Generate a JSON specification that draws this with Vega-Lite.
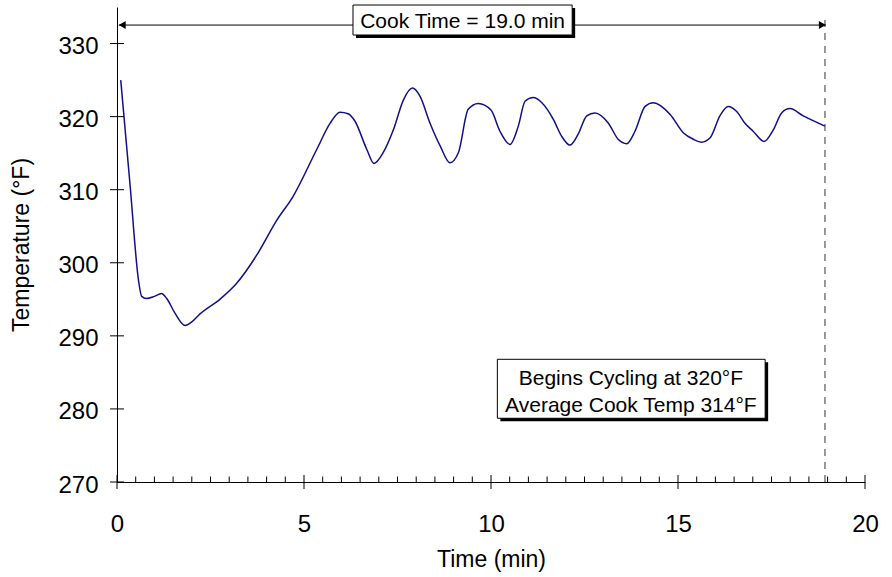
{
  "$schema": "https://vega.github.io/schema/vega-lite/v6.json",
  "width": 748,
  "height": 475,
  "autosize": {"type": "none"},
  "padding": {"left": 117, "top": 7, "right": 27, "bottom": 95},
  "background": "white",
  "config": {
    "view": {"stroke": null},
    "font": "Liberation Sans",
    "axis": {
      "domainColor": "black",
      "labelColor": "black",
      "titleColor": "black",
      "titleFontWeight": "normal",
      "grid": false,
      "ticks": false,
      "labelFontSize": 24,
      "titleFontSize": 23,
      "domainWidth": 1
    }
  },
  "datasets": {
    "curve": [
      {"x": 0.1, "y": 325.0}, {"x": 0.35, "y": 310.6}, {"x": 0.58, "y": 297.4}, {"x": 0.66, "y": 295.4},
      {"x": 0.79, "y": 295.1}, {"x": 1.0, "y": 295.4}, {"x": 1.19, "y": 295.8},
      {"x": 1.33, "y": 295.1}, {"x": 1.55, "y": 293.1}, {"x": 1.82, "y": 291.4}, {"x": 2.0, "y": 291.9},
      {"x": 2.22, "y": 293.0}, {"x": 2.75, "y": 295.0}, {"x": 3.2, "y": 297.2}, {"x": 3.73, "y": 301.0},
      {"x": 4.27, "y": 305.8}, {"x": 4.71, "y": 309.1}, {"x": 5.34, "y": 315.5}, {"x": 5.7, "y": 319.1},
      {"x": 5.96, "y": 320.6}, {"x": 6.18, "y": 320.4}, {"x": 6.36, "y": 319.4}, {"x": 6.68, "y": 315.5},
      {"x": 6.87, "y": 313.6}, {"x": 7.12, "y": 315.1}, {"x": 7.39, "y": 318.2}, {"x": 7.66, "y": 322.3},
      {"x": 7.9, "y": 323.9}, {"x": 8.1, "y": 322.8}, {"x": 8.37, "y": 319.1}, {"x": 8.64, "y": 316.0},
      {"x": 8.9, "y": 313.7}, {"x": 9.13, "y": 315.1}, {"x": 9.39, "y": 321.0}, {"x": 9.66, "y": 321.8},
      {"x": 10.0, "y": 320.9}, {"x": 10.24, "y": 318.0}, {"x": 10.51, "y": 316.2}, {"x": 10.73, "y": 318.7},
      {"x": 10.91, "y": 322.1}, {"x": 11.13, "y": 322.6}, {"x": 11.36, "y": 321.9}, {"x": 11.67, "y": 319.6},
      {"x": 11.89, "y": 317.3}, {"x": 12.11, "y": 316.1}, {"x": 12.33, "y": 317.6}, {"x": 12.56, "y": 320.1},
      {"x": 12.78, "y": 320.5}, {"x": 13.14, "y": 319.1}, {"x": 13.4, "y": 316.9}, {"x": 13.63, "y": 316.3},
      {"x": 13.85, "y": 318.0}, {"x": 14.12, "y": 321.4}, {"x": 14.34, "y": 321.9}, {"x": 14.79, "y": 320.3},
      {"x": 15.14, "y": 317.8}, {"x": 15.41, "y": 316.9}, {"x": 15.63, "y": 316.5}, {"x": 15.86, "y": 317.1},
      {"x": 16.12, "y": 320.1}, {"x": 16.34, "y": 321.4}, {"x": 16.57, "y": 320.7}, {"x": 16.79, "y": 319.1},
      {"x": 17.01, "y": 318.0}, {"x": 17.3, "y": 316.6}, {"x": 17.55, "y": 318.2}, {"x": 17.77, "y": 320.5},
      {"x": 17.99, "y": 321.1}, {"x": 18.35, "y": 320.1}, {"x": 18.93, "y": 318.7}
    ],
    "boxes": [
      {"x": 6.31, "x2": 12.17, "y": 335.27, "y2": 331.17},
      {"x": 10.17, "x2": 17.33, "y": 286.79, "y2": 278.72}
    ],
    "notes": [
      {"x": 9.24, "y": 332.95, "text": "Cook Time = 19.0 min"},
      {"x": 13.74, "y": 284.09, "text": "Begins Cycling at 320°F"},
      {"x": 13.74, "y": 280.4, "text": "Average Cook Temp 314°F"}
    ],
    "arrowline": [{"x": 0.05, "x2": 18.95, "y": 332.53}],
    "heads": [
      {"x": 0.14, "y": 332.53, "shape": "triangle-left"},
      {"x": 18.86, "y": 332.53, "shape": "triangle-right"}
    ],
    "endline": [{"x": 18.93, "y": 270, "y2": 333.77}],
    "yticks": [{"x": 0, "y": 270}, {"x": 0, "y": 280}, {"x": 0, "y": 290}, {"x": 0, "y": 300}, {"x": 0, "y": 310}, {"x": 0, "y": 320}, {"x": 0, "y": 330}],
    "xticks": [{"x": 0, "y": 270}, {"x": 5, "y": 270}, {"x": 10, "y": 270}, {"x": 15, "y": 270}, {"x": 20, "y": 270}],
    "xminor": [
      {"x": 0.5, "y": 270}, {"x": 1, "y": 270}, {"x": 1.5, "y": 270}, {"x": 2, "y": 270}, {"x": 2.5, "y": 270},
      {"x": 3, "y": 270}, {"x": 3.5, "y": 270}, {"x": 4, "y": 270}, {"x": 4.5, "y": 270},
      {"x": 5.5, "y": 270}, {"x": 6, "y": 270}, {"x": 6.5, "y": 270}, {"x": 7, "y": 270}, {"x": 7.5, "y": 270},
      {"x": 8, "y": 270}, {"x": 8.5, "y": 270}, {"x": 9, "y": 270}, {"x": 9.5, "y": 270},
      {"x": 10.5, "y": 270}, {"x": 11, "y": 270}, {"x": 11.5, "y": 270}, {"x": 12, "y": 270}, {"x": 12.5, "y": 270},
      {"x": 13, "y": 270}, {"x": 13.5, "y": 270}, {"x": 14, "y": 270}, {"x": 14.5, "y": 270},
      {"x": 15.5, "y": 270}, {"x": 16, "y": 270}, {"x": 16.5, "y": 270}, {"x": 17, "y": 270}, {"x": 17.5, "y": 270},
      {"x": 18, "y": 270}, {"x": 18.5, "y": 270}, {"x": 19, "y": 270}, {"x": 19.5, "y": 270}
    ]
  },
  "layer": [
    {
      "data": {"name": "curve"},
      "mark": {"type": "line", "interpolate": "monotone", "color": "#10108a", "strokeWidth": 1.5},
      "encoding": {
        "x": {
          "field": "x", "type": "quantitative",
          "scale": {"domain": [0, 20], "nice": false, "zero": false},
          "axis": {
            "title": "Time (min)",
            "values": [0, 5, 10, 15, 20],
            "labelPadding": 30,
            "labelOverlap": false,
            "labelFlush": false,
            "titlePadding": 12
          }
        },
        "y": {
          "field": "y", "type": "quantitative",
          "scale": {"domain": [270, 335], "nice": false, "zero": false},
          "axis": {
            "title": "Temperature (°F)",
            "values": [270, 280, 290, 300, 310, 320, 330],
            "labelPadding": 19,
            "labelOffset": 3,
            "titlePadding": 24
          }
        }
      }
    },
    {
      "data": {"name": "endline"},
      "mark": {"type": "rule", "color": "#333333", "strokeDash": [7, 6], "strokeWidth": 1},
      "encoding": {
        "x": {"field": "x", "type": "quantitative"},
        "y": {"field": "y", "type": "quantitative"},
        "y2": {"field": "y2"}
      }
    },
    {
      "data": {"name": "arrowline"},
      "mark": {"type": "rule", "color": "black", "strokeWidth": 1},
      "encoding": {
        "x": {"field": "x", "type": "quantitative"},
        "x2": {"field": "x2"},
        "y": {"field": "y", "type": "quantitative"}
      }
    },
    {
      "data": {"name": "heads"},
      "mark": {"type": "point", "filled": true, "color": "black", "size": 64, "opacity": 1},
      "encoding": {
        "x": {"field": "x", "type": "quantitative"},
        "y": {"field": "y", "type": "quantitative"},
        "shape": {"field": "shape", "type": "nominal", "scale": null, "legend": null}
      }
    },
    {
      "data": {"name": "boxes"},
      "mark": {"type": "rect", "color": "black", "xOffset": 3, "x2Offset": 3, "yOffset": 3, "y2Offset": 3},
      "encoding": {
        "x": {"field": "x", "type": "quantitative"},
        "x2": {"field": "x2"},
        "y": {"field": "y", "type": "quantitative"},
        "y2": {"field": "y2"}
      }
    },
    {
      "data": {"name": "boxes"},
      "mark": {"type": "rect", "fill": "white", "stroke": "black", "strokeWidth": 1},
      "encoding": {
        "x": {"field": "x", "type": "quantitative"},
        "x2": {"field": "x2"},
        "y": {"field": "y", "type": "quantitative"},
        "y2": {"field": "y2"}
      }
    },
    {
      "data": {"name": "notes"},
      "mark": {"type": "text", "fontSize": 21, "color": "black", "align": "center", "baseline": "middle"},
      "encoding": {
        "x": {"field": "x", "type": "quantitative"},
        "y": {"field": "y", "type": "quantitative"},
        "text": {"field": "text"}
      }
    },
    {
      "data": {"name": "yticks"},
      "mark": {"type": "tick", "orient": "horizontal", "size": 14, "thickness": 1, "color": "black", "opacity": 1},
      "encoding": {
        "x": {"field": "x", "type": "quantitative"},
        "y": {"field": "y", "type": "quantitative"}
      }
    },
    {
      "data": {"name": "xticks"},
      "mark": {"type": "tick", "orient": "vertical", "size": 14, "thickness": 1, "color": "black", "opacity": 1},
      "encoding": {
        "x": {"field": "x", "type": "quantitative"},
        "y": {"field": "y", "type": "quantitative"}
      }
    },
    {
      "data": {"name": "xminor"},
      "mark": {"type": "tick", "orient": "vertical", "size": 5.5, "thickness": 1, "color": "black", "opacity": 1, "yOffset": -2.75},
      "encoding": {
        "x": {"field": "x", "type": "quantitative"},
        "y": {"field": "y", "type": "quantitative"}
      }
    }
  ]
}
